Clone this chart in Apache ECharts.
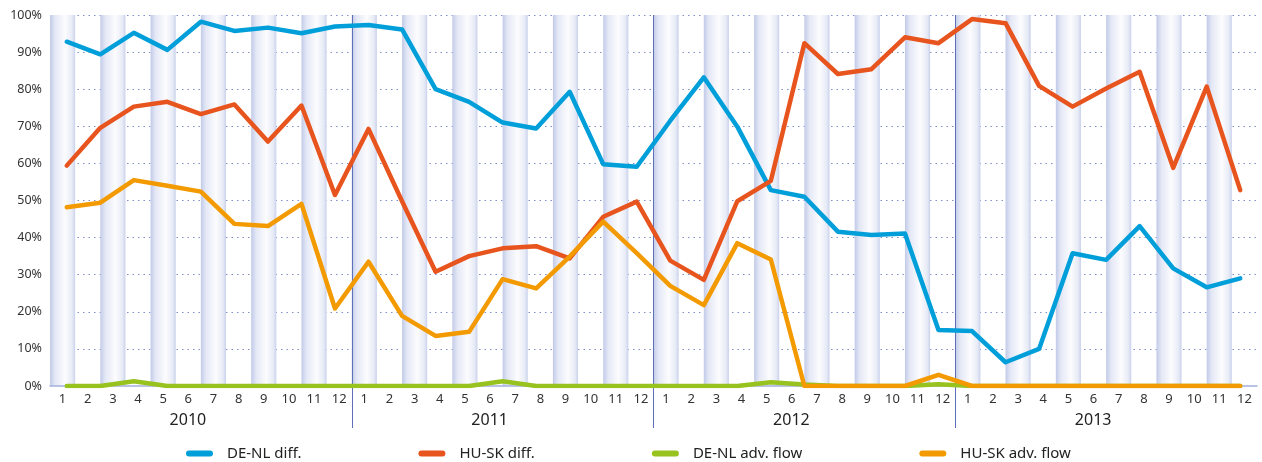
<!DOCTYPE html>
<html>
<head>
<meta charset="utf-8">
<title>Price differences and adverse flows</title>
<script src="https://cdn.jsdelivr.net/npm/echarts@6.0.0/dist/echarts.min.js"></script>
<style>
  html, body { margin: 0; padding: 0; background: #fff; }
  #chart { width: 1262px; height: 462px; }
</style>
</head>
<body>
<div id="chart"></div>
<script>
// x axis: 4 years of months, plus 36 evenly spread points for the lines
const years = ['2010', '2011', '2012', '2013']
const months = ['1', '2', '3', '4', '5', '6', '7', '8', '9', '10', '11', '12']
const monthLabels = years.flatMap(() => months)
const yearBounds = ['2010', '2011', '2012', '2013', '2014']
const pointLabels = Array.from({ length: 36 }, (_, i) => 'P' + (i + 1))

// series values (%)
const deNlDiff = [92.8, 89.4, 95.2, 90.6, 98.2, 95.7, 96.6, 95.1, 96.9, 97.3, 96.1,
  80.0, 76.6, 71.0, 69.4, 79.3, 59.8, 59.1, 71.5, 83.2, 69.9, 52.8, 51.0,
  41.6, 40.7, 41.1, 15.1, 14.8, 6.4, 10.0, 35.8, 34.0, 43.1, 31.7, 26.6, 29.0]
const huSkDiff = [59.4, 69.6, 75.3, 76.6, 73.3, 75.9, 65.9, 75.6, 51.5, 69.3, 49.8,
  30.8, 35.0, 37.1, 37.7, 34.4, 45.6, 49.7, 33.8, 28.6, 49.8, 55.3, 92.4,
  84.1, 85.4, 94.0, 92.4, 98.9, 97.8, 80.9, 75.3, 80.2, 84.7, 58.8, 80.7, 52.8]
const deNlAdvFlow = [0, 0, 1.3, 0, 0, 0, 0, 0, 0, 0, 0,
  0, 0, 1.3, 0, 0, 0, 0, 0, 0, 0, 1.0, 0.4,
  0, 0, 0, 0.5, 0, 0, 0, 0, 0, 0, 0, 0, 0]
const huSkAdvFlow = [48.2, 49.4, 55.5, 54.0, 52.4, 43.7, 43.1, 49.1, 20.9, 33.5, 18.9,
  13.5, 14.6, 28.8, 26.3, 34.9, 44.3, 35.8, 27.0, 21.8, 38.5, 34.1, 0,
  0, 0, 0, 3.0, 0, 0, 0, 0, 0, 0, 0, 0, 0]
const yTicks = [0, 10, 20, 30, 40, 50, 60, 70, 80, 90, 100]

const seriesNames = ['DE-NL diff.', 'HU-SK diff.', 'DE-NL adv. flow', 'HU-SK adv. flow']
const seriesData = [deNlDiff, huSkDiff, deNlAdvFlow, huSkAdvFlow]
const seriesColors = ['#009fda', '#e8541e', '#98c21d', '#f39a00']

const FONT = 'Noto Sans, sans-serif'
const sepColor = '#5d70b8'
const bandFill = {
  type: 'linear', x: 0, y: 0, x2: 1, y2: 0,
  colorStops: [
    { offset: 0, color: '#c1cae8' },
    { offset: 0.2, color: '#e4e8f6' },
    { offset: 0.6, color: '#fcfcfe' },
    { offset: 0.88, color: '#e7ebf6' },
    { offset: 1, color: '#cad1ec' }
  ]
}
const inner = (i) => i > 0 && i < yearBounds.length - 1

const chart = echarts.init(document.getElementById('chart'), null, { renderer: 'canvas' })

chart.setOption({
  animation: false,
  textStyle: { fontFamily: FONT },
  grid: { left: 50, right: 5, top: 15, bottom: 76, containLabel: false },
  legend: {
    data: seriesNames,
    left: 181,
    top: 441,
    itemGap: 117,
    itemWidth: 27,
    itemHeight: 6,
    icon: 'path://M3,0 H24 A3,3 0 0 1 24,6 H3 A3,3 0 0 1 3,0 Z',
    textStyle: { fontSize: 15, color: '#222', fontFamily: FONT, padding: [0, 0, 0, 9] }
  },
  xAxis: [
    {
      // months + shaded bands
      type: 'category',
      data: monthLabels,
      position: 'bottom',
      boundaryGap: true,
      axisLine: { show: true, lineStyle: { color: '#a3b1dc', width: 1.5 } },
      axisTick: { show: false },
      axisLabel: { interval: 0, fontSize: 13, color: '#333', margin: 7 },
      splitLine: { show: false },
      splitArea: { show: true, interval: 0, areaStyle: { color: [bandFill, 'rgba(255,255,255,0)'] } }
    },
    {
      // year labels
      type: 'category',
      data: years,
      position: 'bottom',
      boundaryGap: true,
      axisLine: { show: false },
      axisTick: { show: false },
      axisLabel: { fontSize: 16, color: '#222', margin: 26, padding: [0, 26, 0, 0] },
      splitLine: { show: false }
    },
    {
      // year separators
      type: 'category',
      data: yearBounds,
      position: 'bottom',
      boundaryGap: false,
      axisLine: { show: false },
      axisLabel: { show: false },
      axisTick: { show: true, interval: inner, length: 42, lineStyle: { color: sepColor, width: 1 } },
      splitLine: { show: true, interval: inner, lineStyle: { color: sepColor, width: 1 } }
    },
    {
      // line points
      type: 'category',
      data: pointLabels,
      position: 'bottom',
      boundaryGap: true,
      show: false
    }
  ],
  yAxis: {
    type: 'value',
    min: yTicks[0],
    max: yTicks[yTicks.length - 1],
    interval: 10,
    axisLine: { show: false },
    axisTick: { show: false },
    axisLabel: { formatter: '{value}%', fontSize: 12.5, color: '#333', margin: 8 },
    splitLine: {
      show: true,
      showMinLine: false,
      lineStyle: { color: '#7f8fca', type: [1.5, 4], width: 1 }
    }
  },
  series: seriesNames.map((name, i) => ({
    name: name,
    type: 'line',
    xAxisIndex: 3,
    data: seriesData[i],
    symbol: 'none',
    color: seriesColors[i],
    lineStyle: { width: 4.5, color: seriesColors[i], cap: 'round', join: 'round' },
    z: 3 + i
  }))
})
</script>
</body>
</html>
